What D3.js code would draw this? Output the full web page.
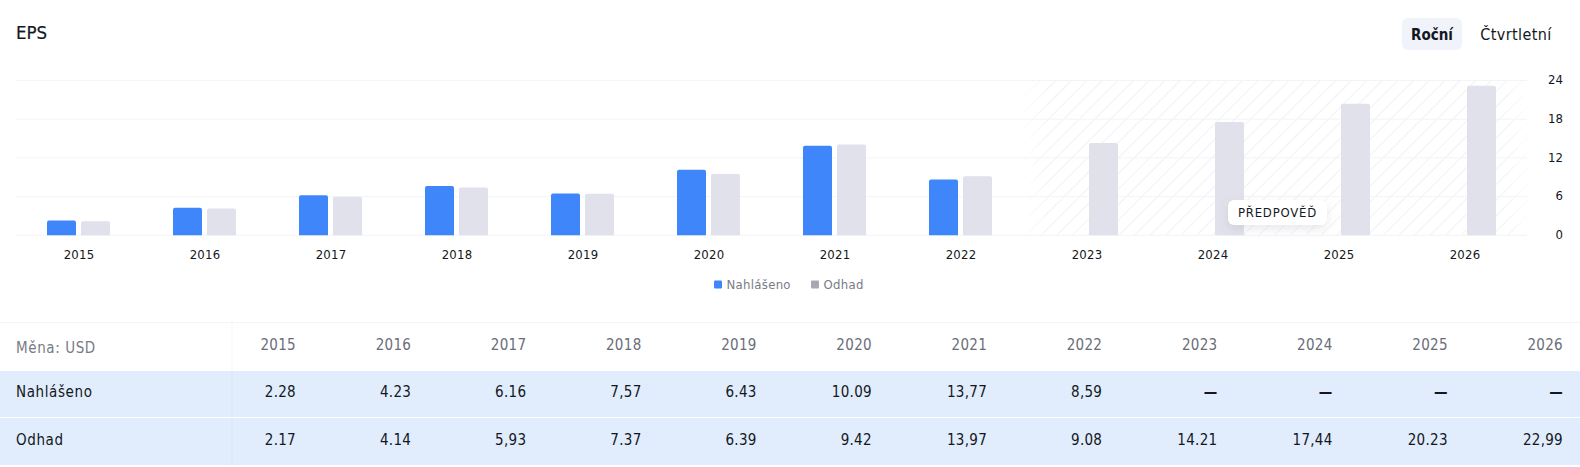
<!DOCTYPE html>
<html>
<head>
<meta charset="utf-8">
<script src="https://cdn.jsdelivr.net/npm/d3@7"></script>
<style>
  html, body { margin: 0; padding: 0; background: #fff; }
  svg { display: block; }
  text { font-family: "DejaVu Sans Condensed", "DejaVu Sans", sans-serif; font-stretch: condensed; }
  .domain { display: none; }
  .tick line { display: none; }
</style>
</head>
<body>
<div id="chart"></div>
<script>
var years = ['2015','2016','2017','2018','2019','2020','2021','2022','2023','2024','2025','2026'];
var reported = [2.28, 4.23, 6.16, 7.57, 6.43, 10.09, 13.77, 8.59, null, null, null, null];
var estimate = [2.17, 4.14, 5.93, 7.37, 6.39, 9.42, 13.97, 9.08, 14.21, 17.44, 20.23, 22.99];
var reported_labels = ['2.28','4.23','6.16','7,57','6.43','10.09','13,77','8,59','—','—','—','—'];
var estimate_labels = ['2.17','4.14','5,93','7.37','6.39','9.42','13,97','9.08','14.21','17,44','20.23','22,99'];
var y_ticks = [0, 6, 12, 18, 24];

var width = 1580, height = 467;
var blue = '#3f86fb', grey = '#e0e1ea';

var svg = d3.select('#chart').append('svg')
  .attr('width', width)
  .attr('height', height);

// scales
var x = d3.scalePoint().domain(years).range([78.5, 1464.5]);
var y = d3.scaleLinear().domain([0, 24]).range([235.3, 80.5]);
// bars run slightly taller than the grid in the original
var bar_y = d3.scaleLinear().domain([0, 24]).range([235.3, 79.3]);
var table_x = d3.scalePoint().domain(years).range([296, 1563]);

// title and period toggle
svg.append('text')
  .attr('x', 16).attr('y', 39)
  .attr('font-size', 18.5).attr('fill', '#131722')
  .attr('stroke', '#131722').attr('stroke-width', 0.2)
  .text('EPS');

svg.append('rect')
  .attr('x', 1402).attr('y', 18)
  .attr('width', 60).attr('height', 32)
  .attr('rx', 6).attr('fill', '#f0f3fa');

svg.append('text')
  .attr('x', 1432).attr('y', 40)
  .attr('text-anchor', 'middle')
  .attr('font-size', 15).attr('font-weight', 700).attr('fill', '#131722')
  .text('Roční');

svg.append('text')
  .attr('x', 1516).attr('y', 40)
  .attr('text-anchor', 'middle')
  .attr('font-size', 16).attr('letter-spacing', 0.4).attr('fill', '#131722')
  .text('Čtvrtletní');

// forecast hatch
var defs = svg.append('defs');
var hatch = defs.append('pattern')
  .attr('id', 'hatch')
  .attr('patternUnits', 'userSpaceOnUse')
  .attr('width', 11).attr('height', 11)
  .attr('patternTransform', 'rotate(45)');
hatch.append('line')
  .attr('x1', 0).attr('x2', 0)
  .attr('y1', 0).attr('y2', 11)
  .attr('stroke', '#f1f2f6').attr('stroke-width', 2);

var fade = defs.append('linearGradient').attr('id', 'fade');
fade.append('stop').attr('offset', 0).attr('stop-color', '#fff').attr('stop-opacity', 1);
fade.append('stop').attr('offset', 0.05).attr('stop-color', '#fff').attr('stop-opacity', 0);
fade.append('stop').attr('offset', 0.95).attr('stop-color', '#fff').attr('stop-opacity', 0);
fade.append('stop').attr('offset', 1).attr('stop-color', '#fff').attr('stop-opacity', 1);

var shadow = defs.append('filter').attr('id', 'pill_shadow')
  .attr('x', '-30%').attr('y', '-60%').attr('width', '160%').attr('height', '240%');
shadow.append('feDropShadow')
  .attr('dx', 0).attr('dy', 4).attr('stdDeviation', 5)
  .attr('flood-color', '#9598a1').attr('flood-opacity', 0.22);

svg.append('rect')
  .attr('x', 1022).attr('y', y(24))
  .attr('width', 510).attr('height', y(0) - y(24))
  .attr('fill', 'url(#hatch)');
svg.append('rect')
  .attr('x', 1022).attr('y', y(24))
  .attr('width', 510).attr('height', y(0) - y(24))
  .attr('fill', 'url(#fade)');

// grid
svg.append('g').selectAll('line')
  .data(y_ticks)
  .enter().append('line')
  .attr('x1', 16).attr('x2', 1527)
  .attr('y1', function(d){ return y(d); })
  .attr('y2', function(d){ return y(d); })
  .attr('stroke', '#f3f4f7');

// axes
var y_axis = svg.append('g')
  .attr('transform', 'translate(1563,0)')
  .call(d3.axisLeft(y).tickValues(y_ticks).tickSize(0).tickPadding(0));
y_axis.selectAll('text').attr('font-size', 13).attr('fill', '#131722').attr('dy', '0.25em');

var x_axis = svg.append('g')
  .attr('transform', 'translate(0,250)')
  .call(d3.axisBottom(x).tickSize(0).tickPadding(0));
x_axis.selectAll('text').attr('font-size', 13).attr('letter-spacing', 0.2).attr('fill', '#131722').attr('dy', '0.71em');

// bars
function top_rounded(x0, bar_w, y0, y1){
  var r = 2;
  return 'M' + x0 + ',' + y0 + 'V' + (y1 + r) + 'Q' + x0 + ',' + y1 + ' ' + (x0 + r) + ',' + y1 +
    'H' + (x0 + bar_w - r) + 'Q' + (x0 + bar_w) + ',' + y1 + ' ' + (x0 + bar_w) + ',' + (y1 + r) +
    'V' + y0 + 'Z';
}

svg.append('g').selectAll('path')
  .data(d3.range(years.length).filter(function(i){ return reported[i] !== null; }))
  .enter().append('path')
  .attr('fill', blue)
  .attr('d', function(i){ return top_rounded(x(years[i]) - 31.5, 29, bar_y(0), bar_y(reported[i])); });

svg.append('g').selectAll('path')
  .data(d3.range(years.length))
  .enter().append('path')
  .attr('fill', grey)
  .attr('d', function(i){ return top_rounded(x(years[i]) + 2.5, 29, bar_y(0), bar_y(estimate[i])); });

// forecast pill
svg.append('rect')
  .attr('x', 1228).attr('y', 200)
  .attr('width', 99).attr('height', 25)
  .attr('rx', 6).attr('fill', '#fff')
  .attr('filter', 'url(#pill_shadow)');

svg.append('text')
  .attr('x', 1277.5).attr('y', 217)
  .attr('text-anchor', 'middle')
  .attr('font-size', 13).attr('letter-spacing', 0.8).attr('fill', '#131722')
  .text('PŘEDPOVĚĎ');

// legend
var legend_items = [
  {label: 'Nahlášeno', color: blue, x: 714},
  {label: 'Odhad', color: '#a8a9b0', x: 811}
];
var legend = svg.append('g').selectAll('g')
  .data(legend_items)
  .enter().append('g')
  .attr('transform', function(d){ return 'translate(' + d.x + ',0)'; });
legend.append('rect')
  .attr('y', 280.5).attr('width', 8).attr('height', 8).attr('rx', 1)
  .attr('fill', function(d){ return d.color; });
legend.append('text')
  .attr('x', 12.5).attr('y', 289)
  .attr('font-size', 13).attr('letter-spacing', 0.3).attr('fill', '#787b86')
  .text(function(d){ return d.label; });

// table
svg.append('line')
  .attr('x1', 0).attr('x2', width)
  .attr('y1', 322.5).attr('y2', 322.5)
  .attr('stroke', '#f3f4f7');

svg.append('rect')
  .attr('x', 0).attr('y', 371)
  .attr('width', width).attr('height', 94)
  .attr('fill', '#e1edfc');

svg.append('line')
  .attr('x1', 0).attr('x2', width)
  .attr('y1', 417.5).attr('y2', 417.5)
  .attr('stroke', '#fff');

svg.append('line')
  .attr('x1', 232).attr('x2', 232)
  .attr('y1', 322).attr('y2', 465)
  .attr('stroke', '#000').attr('stroke-opacity', 0.03);

var row_labels = [
  {label: 'Měna: USD', y: 353, color: '#787b86'},
  {label: 'Nahlášeno', y: 397, color: '#131722'},
  {label: 'Odhad', y: 444.5, color: '#131722'}
];
svg.append('g').selectAll('text')
  .data(row_labels)
  .enter().append('text')
  .attr('x', 16)
  .attr('y', function(d){ return d.y; })
  .attr('font-size', 15)
  .attr('letter-spacing', 0.6)
  .attr('fill', function(d){ return d.color; })
  .text(function(d){ return d.label; });

function table_row(labels, baseline, color){
  svg.append('g').selectAll('text')
    .data(labels)
    .enter().append('text')
    .attr('x', function(d, i){ return table_x(years[i]); })
    .attr('y', baseline)
    .attr('text-anchor', 'end')
    .attr('font-size', 15)
    .attr('letter-spacing', 0.3)
    .attr('font-weight', function(d){ return d == '—' ? 700 : 400; })
    .attr('fill', color)
    .text(function(d){ return d; });
}

table_row(years, 350, '#6a6d78');
table_row(reported_labels, 397, '#131722');
table_row(estimate_labels, 444.5, '#131722');
</script>
</body>
</html>
